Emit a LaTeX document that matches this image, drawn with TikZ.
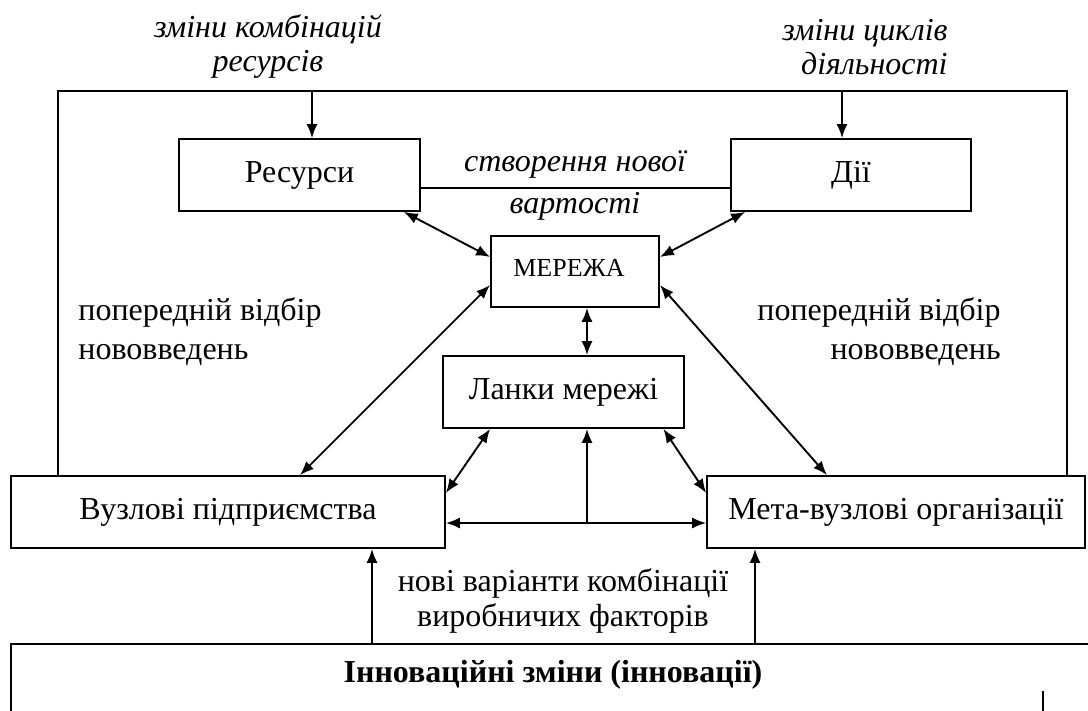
\documentclass[tikz,border=0pt]{standalone}
\usepackage{fontspec}
\setmainfont{Liberation Serif}
\usetikzlibrary{calc,arrows.meta}
\begin{document}
\begin{tikzpicture}[x=0.5pt,y=-0.5pt,
  box/.style={draw, line width=0.9pt, inner sep=0pt, font=\fontsize{16}{18}\selectfont},
  lbl/.style={inner sep=0pt, font=\fontsize{16}{18}\selectfont},
  frame/.style={line width=0.6pt},
  arr/.style={line width=0.95pt, -{Latex[length=7pt,width=5.5pt]}},
  dbl/.style={line width=0.95pt, {Latex[length=7pt,width=5.5pt]}-{Latex[length=7pt,width=5.5pt]}}]
\useasboundingbox (0,0) rectangle (1088,711);
% boxes
\node[box, minimum width=120.5pt, minimum height=36pt] (res) at (299.5,175) {Ресурси};
\node[box, minimum width=120pt, minimum height=36pt] (dii) at (851,175) {Дії};
\node[box, minimum width=84pt, minimum height=35.5pt, font=\fontsize{13}{15}\selectfont] (net) at (575,271.5) {\raisebox{3.75pt}{МЕРЕЖА}\hspace*{6pt}};
\node[box, minimum width=120.5pt, minimum height=36pt] (lan) at (563.5,392) {Ланки мережі};
\node[box, minimum width=217pt, minimum height=36pt] (vuz) at (228,512) {Вузлові підприємства};
\node[box, minimum width=189pt, minimum height=36pt] (meta) at (896,512) {Мета-вузлові організації};
% bottom box
\coordinate (bl) at (11,644);
\coordinate (br) at (1088,644);
\draw[line width=1.2pt] ($(bl)+(0,80)$) -- (bl) -- (br);
\node[lbl, font=\fontsize{16}{18}\selectfont\bfseries] (inn) at (553,675) {Інноваційні зміни (інновації)};
\coordinate (mk) at (1043,691);
\draw[line width=0.6pt] (mk) -- ($(mk)+(0,25)$);
% frame
\coordinate (ftl) at (58,91);
\coordinate (ftr) at (1067,91);
\draw[frame] (ftl |- vuz.north) -- (ftl) -- (ftr) -- (ftr |- meta.north);
% top arrows
\coordinate (t1) at (312,91);
\coordinate (t2) at (842,91);
\draw[arr] (t1) -- (t1 |- res.north);
\draw[arr] (t2) -- (t2 |- dii.north);
% connecting line
\draw[line width=0.8pt] ([yshift=-6.5pt]res.east) -- ([yshift=-6.5pt]dii.west);
\node[lbl, font=\fontsize{16}{18}\selectfont\itshape] (cr1) at (575,165) {створення нової};
\node[lbl, font=\fontsize{16}{18}\selectfont\itshape] (cr2) at (575,206) {вартості};
% top labels
\node[lbl, font=\fontsize{16}{17}\selectfont\itshape, align=center] (zk) at (268,47) {зміни комбінацій\\ресурсів};
\node[lbl, font=\fontsize{16}{17}\selectfont\itshape, align=right, anchor=east] (zc) at (948,47) {зміни циклів\\діяльності};
% side labels
\node[lbl, font=\fontsize{16}{19.5}\selectfont, align=left, anchor=west] (pl) at (78,332) {попередній відбір\\нововведень};
\node[lbl, font=\fontsize{16}{19.5}\selectfont, align=right, anchor=east] (pr) at (1001,332) {попередній відбір\\нововведень};
% bottom label
\node[lbl, font=\fontsize{16}{17.5}\selectfont, align=center] (nv) at (563,601) {нові варіанти комбінації\\виробничих факторів};
% arrows around network
\draw[dbl] ($(res.south east)+(-17,0)$) -- ($(net.west)+(0,-14.5)$);
\draw[dbl] ($(dii.south west)+(15,0)$) -- ($(net.east)+(0,-14.5)$);
\draw[dbl] ($(net.west)+(0,13.5)$) -- ($(vuz.north)+(72,0)$);
\draw[dbl] ($(net.east)+(0,13.5)$) -- ($(meta.north)+(-69,0)$);
\coordinate (ms) at ($(net.south)+(12,0)$);
\draw[dbl] (ms) -- (ms |- lan.north);
\draw[dbl] ($(lan.south west)+(48,0)$) -- ($(vuz.east)+(0,-19)$);
\draw[dbl] ($(lan.south east)+(-21.5,0)$) -- ($(meta.west)+(0,-19)$);
\coordinate (hm) at ($(vuz.east)+(0,11)$);
\draw[dbl] (hm) -- (hm -| meta.west);
\draw[arr] (hm -| ms) -- (ms |- lan.south);
% bottom arrows
\coordinate (b1) at (372,644);
\coordinate (b2) at (755,644);
\draw[arr] (b1) -- (b1 |- vuz.south);
\draw[arr] (b2) -- (b2 |- meta.south);
\end{tikzpicture}
\end{document}
